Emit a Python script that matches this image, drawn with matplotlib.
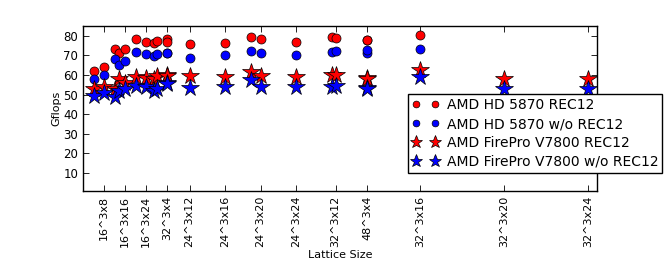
import numpy as np
import matplotlib
matplotlib.use('Agg')
import matplotlib.pyplot as plt

# lattices measured on the HD 5870 (spatial extent, time extent)
hd_L = [16, 16, 16, 24, 16, 16, 16, 24, 16, 16, 32, 24, 24, 32, 24, 24, 24, 32, 24, 48, 32]
hd_T = [4, 8, 12, 4, 16, 20, 24, 8, 28, 32, 4, 12, 16, 8, 20, 24, 28, 12, 32, 4, 16]
hd_rec12 = [62.0, 63.9, 73.5, 71.5, 73.5, 78.3, 76.9, 76.4, 77.3, 78.3, 76.9,
            75.9, 76.6, 79.3, 78.6, 77.1, 79.5, 79.0, 78.1, 78.1, 80.3]
hd_norec = [58.2, 60.0, 68.1, 65.1, 67.3, 71.8, 70.8, 69.5, 70.5, 71.2, 71.2,
            68.8, 70.2, 72.2, 71.5, 70.2, 71.7, 72.4, 71.5, 72.9, 73.2]

# lattices measured on the FirePro V7800
fp_L = hd_L + [32, 32]
fp_T = hd_T + [20, 24]
fp_rec12 = [52.8, 53.8, 52.8, 57.9, 55.9, 58.8, 58.4, 57.9, 59.3, 60.1, 59.5,
            59.3, 58.8, 61.7, 59.6, 58.8, 60.0, 60.1, 58.4, 58.0, 62.5, 58.2, 58.1]
fp_norec = [49.1, 50.8, 48.9, 52.0, 52.8, 54.5, 53.7, 52.0, 53.0, 56.2, 55.5,
            53.3, 54.0, 57.4, 53.7, 54.0, 53.7, 54.2, 53.6, 52.8, 58.8, 52.8, 52.9]

# labelled ticks
tick_L = [16, 16, 16, 32, 24, 24, 24, 24, 32, 48, 32, 32, 32]
tick_T = [8, 16, 24, 4, 12, 16, 20, 24, 12, 4, 16, 20, 24]

hd_vol = np.array(hd_L) ** 3 * np.array(hd_T)
fp_vol = np.array(fp_L) ** 3 * np.array(fp_T)
tick_vol = np.array(tick_L) ** 3 * np.array(tick_T)
tick_lab = ['%d^3x%d' % (l, t) for l, t in zip(tick_L, tick_T)]

fig = plt.figure(figsize=(6.64, 2.66), dpi=100)
ax = fig.add_axes([0.125, 0.283, 0.774, 0.619])

ax.plot(hd_vol, hd_rec12, 'o', color='r', mec='k', mew=0.5, ms=6.5, label='AMD HD 5870 REC12')
ax.plot(hd_vol, hd_norec, 'o', color='b', mec='k', mew=0.5, ms=6.5, label='AMD HD 5870 w/o REC12')
ax.plot(fp_vol, fp_rec12, '*', color='r', mec='k', mew=0.5, ms=13, label='AMD FirePro V7800 REC12')
ax.plot(fp_vol, fp_norec, '*', color='b', mec='k', mew=0.5, ms=13, label='AMD FirePro V7800 w/o REC12')

ax.set_xlim(0, 800000)
ax.set_ylim(1, 85)
ax.set_yticks(range(10, 90, 10))
ax.set_xticks(tick_vol)
ax.set_xticklabels(tick_lab, rotation=90, fontsize=8)
ax.tick_params(axis='y', labelsize=8.5)
ax.tick_params(direction='in', top=True, right=True, length=4, width=0.6)
for s in ax.spines.values():
    s.set_linewidth(1.0)

ax.set_xlabel('Lattice Size', fontsize=8, labelpad=2)
ax.set_ylabel('Gflops', fontsize=8, labelpad=1)

leg = ax.legend(numpoints=2, fontsize=10, loc='lower left', markerscale=0.75,
                bbox_to_anchor=(0.614, 0.35), bbox_transform=fig.transFigure,
                borderaxespad=0, fancybox=False, framealpha=1, edgecolor='k',
                handletextpad=0.5, borderpad=0.3, labelspacing=0.35)
leg.get_frame().set_linewidth(1.0)

fig.savefig('out.png', dpi=100)
